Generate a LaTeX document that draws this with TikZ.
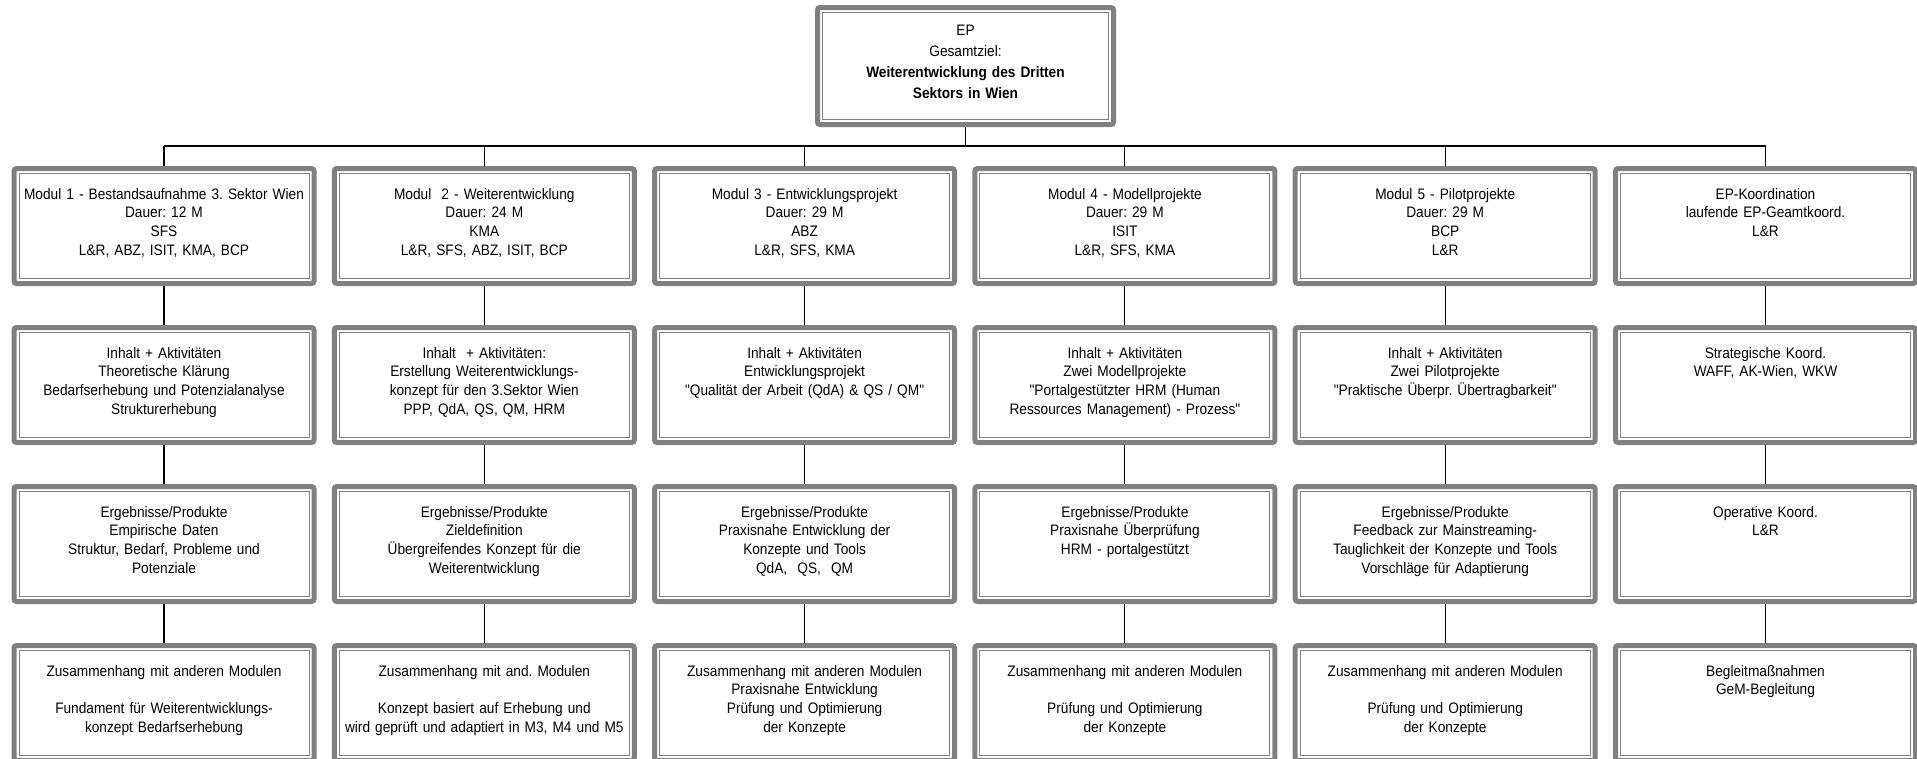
\documentclass[tikz,border=0pt]{standalone}
\usepackage{fontspec}
\newfontfamily\dfont{Liberation Sans}[FakeStretch=0.9]
\definecolor{bgray}{HTML}{808080}
\tikzset{
  bx/.style={draw=bgray, line width=5pt, rounded corners=2.5pt, fill=white,
    minimum width=300pt, minimum height=115pt, inner sep=0pt, anchor=north,
    path picture={\draw[bgray, line width=1pt, sharp corners]
      ([shift={(5pt,-5pt)}]path picture bounding box.north west) rectangle
      ([shift={(-5pt,5pt)}]path picture bounding box.south east);}},
  tx/.style={anchor=north, text width=330pt, align=center, inner sep=0pt,
    font=\dfont\fontsize{15.2pt}{18.6pt}\selectfont\frenchspacing, text=black},
  cn/.style={draw=black, line width=1.1pt}
}
\newcommand{\mkbox}[4]{%
  \node[bx] (#1) at (#2,#3) {};
  \node[tx] (#1t) at ([yshift=-22pt]#1.north) {#4};}
\begin{document}
\begin{tikzpicture}[x=1pt,y=-1pt]
\useasboundingbox (0,0) rectangle (1917,758);
\clip (0,0) rectangle (1917,758);
\fill[white] (0,0) rectangle (1917,758);

% top box
\node[bx, minimum width=296pt, minimum height=117pt] (top) at (965.5,5) {};
\node[tx, font=\dfont\fontsize{15.2pt}{21pt}\selectfont\frenchspacing] (topt) at ([yshift=-20.3pt]top.north)
  {EP\\Gesamtziel:\\\textbf{Weiterentwicklung des Dritten}\\\textbf{Sektors in Wien}};

% row 1
\mkbox{a1}{164}{166}{Modul 1 - Bestandsaufnahme 3. Sektor Wien\\Dauer: 12 M\\SFS\\L\&R, ABZ, ISIT, KMA, BCP}
\mkbox{a2}{484.3}{166}{Modul\ \ 2 - Weiterentwicklung\\Dauer: 24 M\\KMA\\L\&R, SFS, ABZ, ISIT, BCP}
\mkbox{a3}{804.6}{166}{Modul 3 - Entwicklungsprojekt\\Dauer: 29 M\\ABZ\\L\&R, SFS, KMA}
\mkbox{a4}{1124.9}{166}{Modul 4 - Modellprojekte\\Dauer: 29 M\\ISIT\\L\&R, SFS, KMA}
\mkbox{a5}{1445.2}{166}{Modul 5 - Pilotprojekte\\Dauer: 29 M\\BCP\\L\&R}
\mkbox{a6}{1765.5}{166}{EP-Koordination\\laufende EP-Geamtkoord.\\L\&R}

% row 2
\mkbox{b1}{164}{325}{Inhalt + Aktivitäten\\Theoretische Klärung\\Bedarfserhebung und Potenzialanalyse\\Strukturerhebung}
\mkbox{b2}{484.3}{325}{Inhalt\ \ + Aktivitäten:\\Erstellung Weiterentwicklungs-\\konzept für den 3.Sektor Wien\\PPP, QdA, QS, QM, HRM}
\mkbox{b3}{804.6}{325}{Inhalt + Aktivitäten\\Entwicklungsprojekt\\"Qualität der Arbeit (QdA) \& QS / QM"}
\mkbox{b4}{1124.9}{325}{Inhalt + Aktivitäten\\Zwei Modellprojekte\\"Portalgestützter HRM (Human\\Ressources Management) - Prozess"}
\mkbox{b5}{1445.2}{325}{Inhalt + Aktivitäten\\Zwei Pilotprojekte\\"Praktische Überpr. Übertragbarkeit"}
\mkbox{b6}{1765.5}{325}{Strategische Koord.\\WAFF, AK-Wien, WKW}

% row 3
\mkbox{c1}{164}{484}{Ergebnisse/Produkte\\Empirische Daten\\Struktur, Bedarf, Probleme und\\Potenziale}
\mkbox{c2}{484.3}{484}{Ergebnisse/Produkte\\Zieldefinition\\Übergreifendes Konzept für die\\Weiterentwicklung}
\mkbox{c3}{804.6}{484}{Ergebnisse/Produkte\\Praxisnahe Entwicklung der\\Konzepte und Tools\\QdA,\ \ QS,\ \ QM}
\mkbox{c4}{1124.9}{484}{Ergebnisse/Produkte\\Praxisnahe Überprüfung\\HRM - portalgestützt}
\mkbox{c5}{1445.2}{484}{Ergebnisse/Produkte\\Feedback zur Mainstreaming-\\Tauglichkeit der Konzepte und Tools\\Vorschläge für Adaptierung}
\mkbox{c6}{1765.5}{484}{Operative Koord.\\L\&R}

% row 4
\mkbox{d1}{164}{643}{Zusammenhang mit anderen Modulen\\[18.6pt]Fundament für Weiterentwicklungs-\\konzept Bedarfserhebung}
\mkbox{d2}{484.3}{643}{Zusammenhang mit and. Modulen\\[18.6pt]Konzept basiert auf Erhebung und\\wird geprüft und adaptiert in M3, M4 und M5}
\mkbox{d3}{804.6}{643}{Zusammenhang mit anderen Modulen\\Praxisnahe Entwicklung\\Prüfung und Optimierung\\der Konzepte}
\mkbox{d4}{1124.9}{643}{Zusammenhang mit anderen Modulen\\[18.6pt]Prüfung und Optimierung\\der Konzepte}
\mkbox{d5}{1445.2}{643}{Zusammenhang mit anderen Modulen\\[18.6pt]Prüfung und Optimierung\\der Konzepte}
\mkbox{d6}{1765.5}{643}{Begleitmaßnahmen\\GeM-Begleitung}

% connectors
\coordinate (bus) at (965.5,146);
\draw[cn] (top.south) -- (bus);
\draw[cn] (a1.north |- bus) -- (a6.north |- bus);
\foreach \c in {1,...,6}{
  \draw[cn] (a\c.north) -- (a\c.north |- bus);
  \draw[cn] (a\c.south) -- (b\c.north);
  \draw[cn] (b\c.south) -- (c\c.north);
  \draw[cn] (c\c.south) -- (d\c.north);
}
\end{tikzpicture}
\end{document}
